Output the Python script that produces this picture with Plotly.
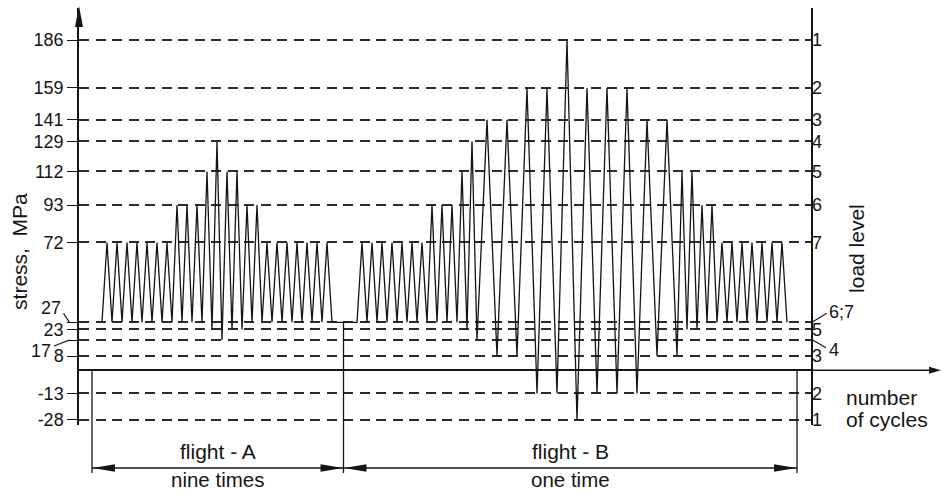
import plotly.graph_objects as go

# ---------------- data ----------------
stress_levels = [186, 159, 141, 129, 112, 93, 72, 27, 23, 17, 8, -13, -28]
stress_labels = ["186", "159", "141", "129", "112", "93", "72", "27", "23", "17", "8", "-13", "-28"]
load_level_labels = ["1", "2", "3", "4", "5", "6", "7", "6;7", "5", "4", "3", "2", "1"]

ground_stress = 27  # start / end stress of every flight

flight_A_peaks = [72, 72, 72, 72, 72, 72, 72, 93, 93, 93, 112, 129, 112, 112,
                  93, 93, 72, 72, 72, 72, 72, 72, 72]
flight_A_valleys = [27, 27, 27, 27, 27, 27, 27, 27, 27, 27, 23, 17, 23, 23,
                    27, 27, 27, 27, 27, 27, 27, 27]

flight_B_peaks = [72, 72, 72, 72, 72, 72, 72, 93, 93, 93, 112, 129, 141, 141,
                  159, 159, 186, 159, 159, 159, 141, 141, 112, 112, 93, 93,
                  72, 72, 72, 72, 72, 72, 72]
flight_B_valleys = [27, 27, 27, 27, 27, 27, 27, 27, 27, 27, 23, 17, 8, 8,
                    -13, -13, -28, -13, -13, -13, 8, 8, 23, 23,
                    27, 27, 27, 27, 27, 27, 27, 27]

# cycles of load levels 1-3 last twice as long as the others
long_cycle_peaks = [186, 159, 141]

flight_A_start = 0
flight_B_start = 51
flight_bounds = [-2, 48.3, 139]   # left edge A | A/B | right edge B

x_range = [-4.6, 141.8]
y_range = [-30.82, 204.02]

FONT = "Arial, Liberation Sans, sans-serif"
INK = "#151515"
TICK_SIZE = 18
TEXT_SIZE = 21
PLOT_W = 732  # plot-area width in px (used to place labels outside the axes)


def build_flight(peaks, valleys, t0):
    t = t0
    xs, ys = [t], [ground_stress]
    for i, p in enumerate(peaks):
        d = 2 if p in long_cycle_peaks else 1
        t += d
        xs.append(t)
        ys.append(p)
        t += d
        xs.append(t)
        ys.append(valleys[i] if i < len(valleys) else ground_stress)
    return xs, ys


xa, ya = build_flight(flight_A_peaks, flight_A_valleys, flight_A_start)
xb, yb = build_flight(flight_B_peaks, flight_B_valleys, flight_B_start)

fig = go.Figure()
fig.add_trace(go.Scatter(x=xa + xb, y=ya + yb, mode="lines",
                         line=dict(color=INK, width=1.3), showlegend=False,
                         hoverinfo="skip"))
fig.add_trace(go.Scatter(x=[None], y=[None], yaxis="y2", showlegend=False,
                         hoverinfo="skip"))

# labels placed off their line (with leader lines): (px from axis to text edge, yshift px)
offset_left = {27: (-16, 14), 17: (-26, -11)}
offset_right = {27: (16, 10), 17: (16, -10)}
left_ticktext = ["" if s in offset_left else lab for s, lab in zip(stress_levels, stress_labels)]
right_ticktext = ["" if s in offset_right else lab for s, lab in zip(stress_levels, load_level_labels)]

fig.update_layout(
    width=941, height=494,
    margin=dict(l=79, r=130, t=8, b=69),
    plot_bgcolor="white", paper_bgcolor="white",
    showlegend=False,
    font=dict(family=FONT, color=INK),
    xaxis=dict(range=x_range, visible=False, fixedrange=True),
    yaxis=dict(
        range=y_range, tickvals=stress_levels, ticktext=left_ticktext,
        ticks="outside", ticklen=10, tickwidth=1.4, tickcolor=INK,
        tickfont=dict(size=TICK_SIZE, family=FONT, color=INK),
        showline=True, linecolor=INK, linewidth=1.5, mirror=True,
        showgrid=True, gridcolor="#2a2a2a", gridwidth=1.8, griddash="10px,6.5px",
        zeroline=True, zerolinecolor=INK, zerolinewidth=1.5,
        fixedrange=True,
    ),
    yaxis2=dict(
        range=y_range, overlaying="y", side="right",
        tickvals=stress_levels, ticktext=right_ticktext, ticks="",
        tickfont=dict(size=TICK_SIZE, family=FONT, color=INK),
        showgrid=False, zeroline=False, showline=False, fixedrange=True,
    ),
)

shapes = []
annotations = []

for s, lab in zip(stress_levels, stress_labels):
    if s in offset_left:
        dx, dy = offset_left[s]
        annotations.append(dict(text=lab, xref="paper", x=dx / PLOT_W, xanchor="right",
                                yref="y", y=s, yshift=dy, showarrow=False,
                                font=dict(size=TICK_SIZE)))
for s, lab in zip(stress_levels, load_level_labels):
    if s in offset_right:
        dx, dy = offset_right[s]
        annotations.append(dict(text=lab, xref="paper", x=1 + dx / PLOT_W, xanchor="left",
                                yref="y", y=s, yshift=dy, showarrow=False,
                                font=dict(size=TICK_SIZE)))

leader = dict(type="line", line=dict(color=INK, width=1.1),
              xsizemode="pixel", ysizemode="pixel")
shapes += [
    dict(leader, xref="paper", xanchor=0, x0=-15.5, x1=-9.5, yref="y", yanchor=27, y0=9, y1=0),
    dict(leader, xref="paper", xanchor=0, x0=-25, x1=-9.5, yref="y", yanchor=17, y0=-6, y1=0),
    dict(leader, xref="paper", xanchor=1, x0=1, x1=15.7, yref="y", yanchor=27, y0=0, y1=9),
    dict(leader, xref="paper", xanchor=1, x0=1.7, x1=15, yref="y", yanchor=17, y0=0, y1=-7.6),
]

# y-axis arrowhead
shapes.append(dict(type="path", xref="paper", yref="paper", xanchor=0, yanchor=1,
                   xsizemode="pixel", ysizemode="pixel",
                   path="M0,2 L-4,-19 L4,-19 Z", fillcolor=INK, line=dict(width=0)))
# x-axis extension with arrowhead
shapes.append(dict(type="line", xref="paper", yref="y", x0=1, x1=1.170, y0=0, y1=0,
                   line=dict(color=INK, width=1.5)))
shapes.append(dict(type="path", xref="paper", yref="y", xanchor=1.1776, yanchor=0,
                   xsizemode="pixel", ysizemode="pixel",
                   path="M0,0 L-12,3.6 L-12,-3.6 Z", fillcolor=INK, line=dict(width=0)))

# flight boundary lines
arrow_y = -0.1031
bottom_y = -0.1151
for xb_, ytop in zip(flight_bounds, [0, ground_stress, 0]):
    shapes.append(dict(type="line", xref="x", yref="y", x0=xb_, x1=xb_, y0=ytop, y1=y_range[0],
                       line=dict(color=INK, width=1.3)))
    shapes.append(dict(type="line", xref="x", yref="paper", x0=xb_, x1=xb_, y0=0, y1=bottom_y,
                       line=dict(color=INK, width=1.3)))

# dimension arrows
for a, b in [(flight_bounds[0], flight_bounds[1]), (flight_bounds[1], flight_bounds[2])]:
    shapes.append(dict(type="line", xref="x", yref="paper", x0=a, x1=b, y0=arrow_y, y1=arrow_y,
                       line=dict(color=INK, width=1.3)))
    shapes.append(dict(type="path", xref="x", yref="paper", xanchor=a, yanchor=arrow_y,
                       xsizemode="pixel", ysizemode="pixel",
                       path="M0.5,0 L23,3.8 L23,-3.8 Z", fillcolor=INK, line=dict(width=0)))
    shapes.append(dict(type="path", xref="x", yref="paper", xanchor=b, yanchor=arrow_y,
                       xsizemode="pixel", ysizemode="pixel",
                       path="M-0.5,0 L-23,3.8 L-23,-3.8 Z", fillcolor=INK, line=dict(width=0)))

flight_names = ["flight - A", "flight - B"]
flight_repeats = ["nine times", "one time"]
for i in range(2):
    mid = (flight_bounds[i] + flight_bounds[i + 1]) / 2
    annotations.append(dict(text=flight_names[i], xref="x", x=mid, yref="paper", y=-0.0624,
                            xanchor="center", yanchor="middle", showarrow=False,
                            font=dict(size=TEXT_SIZE)))
    annotations.append(dict(text=flight_repeats[i], xref="x", x=mid, yref="paper", y=-0.163,
                            xanchor="center", yanchor="bottom", showarrow=False,
                            font=dict(size=TEXT_SIZE - 0.5)))

# axis titles
annotations += [
    dict(text="stress,  MPa", xref="paper", x=-0.0806, yref="paper", y=0.415,
         textangle=-90, xanchor="center", yanchor="middle", showarrow=False,
         font=dict(size=TEXT_SIZE)),
    dict(text="load level", xref="paper", x=1.0628, yref="paper", y=0.4245,
         textangle=-90, xanchor="center", yanchor="middle", showarrow=False,
         font=dict(size=TEXT_SIZE)),
    dict(text="number", xref="paper", x=1.0451, yref="paper", y=0.0671,
         xanchor="left", yanchor="middle", showarrow=False, font=dict(size=TEXT_SIZE)),
    dict(text="of cycles", xref="paper", x=1.0451, yref="paper", y=0.012,
         xanchor="left", yanchor="middle", showarrow=False, font=dict(size=TEXT_SIZE)),
]

fig.update_layout(shapes=shapes, annotations=annotations)
fig.write_html("out.html")
